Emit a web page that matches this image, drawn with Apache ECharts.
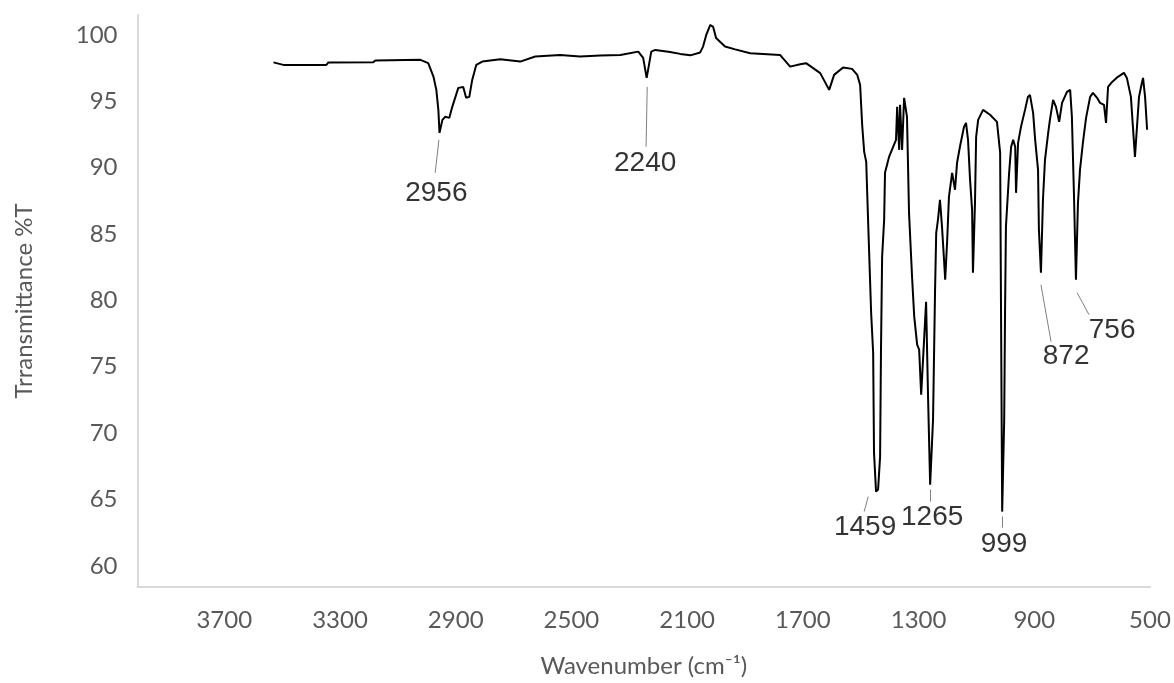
<!DOCTYPE html>
<html>
<head>
<meta charset="utf-8">
<script src="https://cdn.jsdelivr.net/npm/echarts@6/dist/echarts.min.js"></script>
<style>
html,body{margin:0;padding:0;background:#fff;}
#chart{width:1174px;height:683px;}
</style>
</head>
<body>
<div id="chart"></div>
<script>
// Wavenumber (cm-1) and transmittance (%T)
const wavenumbers = [3530,3496,3347,3340,3185,3178,3022,2995,2977,2967,2960,2956,2946,2936,2922,2912,2891,2874,2864,2853,2843,2829,2808,2746,2677,2625,2539,2470,2400,2331,2269,2252,2240,2235,2224,2210,2159,2124,2089,2055,2045,2034,2020,2010,2000,1969,1934,1882,1779,1744,1709,1689,1640,1609,1592,1561,1530,1512,1502,1495,1488,1481,1474,1464,1457,1454,1447,1440,1433,1430,1426,1419,1416,1402,1388,1378,1374,1367,1364,1357,1350,1340,1333,1322,1315,1305,1298,1291,1274,1267,1260,1250,1243,1239,1233,1226,1219,1212,1208,1201,1195,1184,1174,1167,1157,1143,1136,1129,1122,1115,1112,1105,1101,1094,1077,1053,1029,1018,1015,1011,1004,1001,998,987,980,973,966,963,956,946,932,922,915,904,897,887,884,877,870,863,852,846,835,825,814,804,787,776,770,763,756,749,742,732,721,707,697,683,673,659,652,645,631,611,590,580,566,559,552,545,538,528,524,517,510];
const transmittance = [97.93,97.74,97.74,97.93,97.94,98.08,98.12,97.87,96.86,95.86,94.35,92.62,93.60,93.83,93.75,94.58,96.01,96.08,95.26,95.33,96.61,97.74,97.99,98.17,97.99,98.37,98.49,98.37,98.44,98.49,98.74,98.27,96.76,97.36,98.74,98.87,98.72,98.57,98.46,98.68,99.12,100.0,100.75,100.60,99.77,99.12,98.91,98.62,98.49,97.61,97.79,97.87,97.12,95.86,96.99,97.54,97.44,96.99,96.23,93.22,91.19,90.44,85.69,79.07,76.05,68.52,65.59,65.74,68.22,76.05,83.28,86.07,89.61,90.81,91.57,92.09,94.58,91.34,94.73,91.34,95.26,93.83,86.60,81.55,78.77,76.66,76.28,72.89,79.89,72.52,66.11,71.01,80.80,85.09,86.07,87.58,85.54,83.06,81.55,84.56,87.80,89.61,88.33,90.36,91.57,93.07,93.37,92.09,89.08,86.82,82.08,87.35,92.32,93.60,94.35,93.98,93.45,91.11,79.29,64.08,71.01,79.29,85.54,89.61,91.57,92.09,91.57,88.10,91.87,93.07,94.35,95.33,95.48,94.13,92.09,89.83,85.32,82.08,87.58,90.59,92.62,93.60,95.11,94.58,93.45,94.88,95.71,95.86,93.83,88.10,81.55,87.35,89.83,91.87,93.75,95.33,95.63,95.26,94.88,94.73,93.37,96.08,96.46,96.84,97.14,96.76,95.33,93.07,90.81,93.07,95.33,96.39,96.76,95.33,92.85];

const xTicks = [500,900,1300,1700,2100,2500,2900,3300,3700];
const yTicks = [60,65,70,75,80,85,90,95,100];

// Peak annotations: label text, label centre (wn, %T), leader line start and end (wn, %T)
const peakText   = ['2956','2240','1459','1265','999','872','756'];
const labelWn    = [2967,2245,1485,1253,1004.5,790,631];
const labelT     = [88.03,90.36,62.88,63.63,61.60,75.75,77.71];
const leadFromWn = [2958,2238,1474,1260,1011,877,752];
const leadFromT  = [92.1,96.08,65.21,65.74,63.71,81.17,80.57];
const leadToWn   = [2971,2242,1488,1260,1011,842,711];
const leadToT    = [89.61,91.57,64.08,64.84,62.88,76.88,78.92];

const spectrum = wavenumbers.map((w,i)=>[w,transmittance[i]]);
const labelPts = peakText.map((t,i)=>({value:[labelWn[i],labelT[i]], name:t}));
const leaders = peakText.map((t,i)=>[{coord:[leadFromWn[i],leadFromT[i]]},{coord:[leadToWn[i],leadToT[i]]}]);

const chart = echarts.init(document.getElementById('chart'), null, {renderer:'canvas'});
const gray = '#595959';
chart.setOption({
  animation:false,
  backgroundColor:'#fff',
  grid:{left:137.5, right:24, top:15, bottom:95, containLabel:false},
  xAxis:{
    type:'value', inverse:true, min:500, max:4000,
    name:'Wavenumber (cm\u207B\u00B9)', nameLocation:'middle', nameGap:67,
    nameTextStyle:{color:gray, fontFamily:'Lato', fontSize:24},
    axisLine:{show:true, lineStyle:{color:'#d9d9d9', width:2}},
    axisTick:{show:false},
    splitLine:{show:false},
    axisLabel:{customValues:xTicks, formatter:v=>String(v), color:gray, fontFamily:'Lato', fontSize:24, margin:21}
  },
  yAxis:{
    type:'value', min:58.4, max:101.5,
    name:'Trransmittance %T', nameLocation:'middle', nameGap:101, nameRotate:90,
    nameTextStyle:{color:gray, fontFamily:'Lato', fontSize:24},
    axisLine:{show:true, lineStyle:{color:'#d9d9d9', width:2}},
    axisTick:{show:false},
    splitLine:{show:false},
    axisLabel:{customValues:yTicks, formatter:v=>String(v), color:gray, fontFamily:'Lato', fontSize:24, margin:20}
  },
  series:[
    {
      type:'line', data:spectrum, showSymbol:false, symbol:'none',
      lineStyle:{color:'#000', width:2}, z:3,
      markLine:{
        silent:true, symbol:['none','none'], animation:false,
        lineStyle:{color:'#808080', width:1, type:'solid'},
        label:{show:false},
        data:leaders
      }
    },
    {
      type:'scatter', data:labelPts, symbolSize:0, silent:true, z:4,
      label:{show:true, position:'inside', formatter:p=>p.name,
        color:'#000', fontFamily:'Liberation Sans', fontSize:28}
    }
  ]
});
</script>
</body>
</html>
